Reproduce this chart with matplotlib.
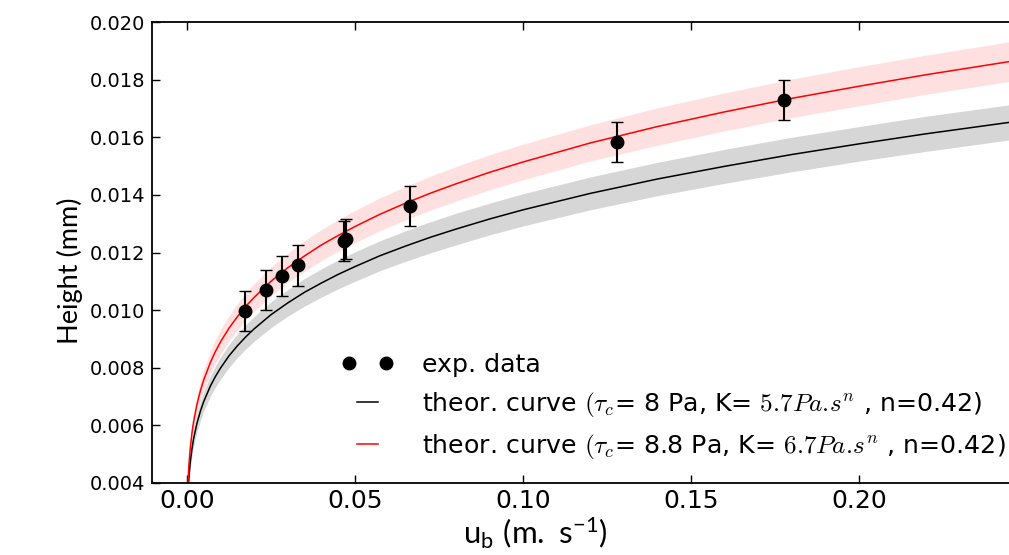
import matplotlib
matplotlib.use("Agg")
import matplotlib.pyplot as plt
from matplotlib.legend_handler import HandlerLine2D
from matplotlib.ticker import FormatStrFormatter

plt.rcParams["mathtext.fontset"] = "cm"

# -------------------------------------------------
# Data
# -------------------------------------------------

# measured heights with error bars
u_exp = [0.0173, 0.0234, 0.0284, 0.0331, 0.0466, 0.0474, 0.0664, 0.1279, 0.1778]
h_exp = [0.00998, 0.01069, 0.01119, 0.01155, 0.01240, 0.01247, 0.01361, 0.01583, 0.01730]
h_err = [0.0007, 0.0007, 0.0007, 0.0007, 0.0007, 0.0007, 0.0007, 0.0007, 0.0007]

# theoretical curves sampled along u_b (denser near zero where they are steep)
u_th = [0.0003, 0.0004, 0.0006, 0.001, 0.0015, 0.002, 0.003, 0.004, 0.005, 0.007,
        0.0085, 0.010, 0.0125, 0.015, 0.0175, 0.020, 0.025, 0.030, 0.035, 0.040,
        0.045, 0.050, 0.0575, 0.065, 0.0725, 0.080, 0.090, 0.100, 0.120, 0.140,
        0.160, 0.180, 0.200, 0.220, 0.245]
h_black = [0.00361, 0.00385, 0.00422, 0.00474, 0.00519, 0.00555, 0.00608, 0.00649,
           0.00683, 0.00737, 0.00770, 0.00799, 0.00841, 0.00876, 0.00907, 0.00935,
           0.00984, 0.01025, 0.01062, 0.01094, 0.01124, 0.01151, 0.01189, 0.01222,
           0.01253, 0.01281, 0.01316, 0.01348, 0.01405, 0.01455, 0.01499, 0.01540,
           0.01577, 0.01612, 0.01652]
dh_black = [0.00018, 0.00019, 0.00021, 0.00024, 0.00026, 0.00028, 0.00030, 0.00032,
            0.00033, 0.00035, 0.00037, 0.00038, 0.00040, 0.00041, 0.00042, 0.00043,
            0.00045, 0.00046, 0.00048, 0.00049, 0.00050, 0.00051, 0.00052, 0.00053,
            0.00054, 0.00055, 0.00055, 0.00056, 0.00057, 0.00058, 0.00059, 0.00060,
            0.00060, 0.00061, 0.00061]
h_red = [0.00396, 0.00423, 0.00465, 0.00523, 0.00574, 0.00614, 0.00674, 0.00720,
         0.00758, 0.00819, 0.00857, 0.00890, 0.00937, 0.00977, 0.01013, 0.01044,
         0.01100, 0.01147, 0.01188, 0.01226, 0.01259, 0.01290, 0.01333, 0.01371,
         0.01406, 0.01438, 0.01478, 0.01514, 0.01580, 0.01637, 0.01688, 0.01735,
         0.01777, 0.01817, 0.01863]
dh_red = [0.00020, 0.00022, 0.00024, 0.00027, 0.00029, 0.00031, 0.00033, 0.00035,
          0.00037, 0.00039, 0.00041, 0.00042, 0.00044, 0.00046, 0.00047, 0.00048,
          0.00050, 0.00051, 0.00053, 0.00054, 0.00055, 0.00056, 0.00057, 0.00058,
          0.00059, 0.00060, 0.00061, 0.00062, 0.00063, 0.00065, 0.00066, 0.00067,
          0.00068, 0.00068, 0.00069]

label_exp = "exp. data"
label_black = r"theor. curve $(\tau_c$= 8 Pa, K= $5.7Pa.\!s^n$ , n=0.42)"
label_red = r"theor. curve $(\tau_c$= 8.8 Pa, K= $6.7Pa.\!s^n$ , n=0.42)"

# -------------------------------------------------
# Plot
# -------------------------------------------------

fig = plt.figure(figsize=(10.09, 5.55), dpi=100)
# axes run past the right border of the figure
ax = fig.add_axes([152 / 1009, 72 / 555, 866.5 / 1009, 461 / 555])

lo_b = [h - d for h, d in zip(h_black, dh_black)]
hi_b = [h + d for h, d in zip(h_black, dh_black)]
lo_r = [h - d for h, d in zip(h_red, dh_red)]
hi_r = [h + d for h, d in zip(h_red, dh_red)]

ax.fill_between(u_th, lo_b, hi_b, color="k", alpha=0.16, linewidth=0)
ax.fill_between(u_th, lo_r, hi_r, color="r", alpha=0.12, linewidth=0)

l_exp, = ax.plot(u_exp, h_exp, "o", color="k", markersize=9, label=label_exp, zorder=5)
ax.errorbar(u_exp, h_exp, yerr=h_err, fmt="none", ecolor="k", elinewidth=1.5,
            capsize=4, capthick=1, zorder=4)
l_blk, = ax.plot(u_th, h_black, color="k", linewidth=1.1, label=label_black)
l_red, = ax.plot(u_th, h_red, color="r", linewidth=1.1, label=label_red)

ax.set_xlim(-0.0104, 0.2475)
ax.set_ylim(0.004, 0.020)
ax.set_xticks([0.00, 0.05, 0.10, 0.15, 0.20])
ax.set_yticks([0.004, 0.006, 0.008, 0.010, 0.012, 0.014, 0.016, 0.018, 0.020])
ax.xaxis.set_major_formatter(FormatStrFormatter("%.2f"))
ax.yaxis.set_major_formatter(FormatStrFormatter("%.3f"))

ax.tick_params(direction="in", length=6, width=1, top=True, right=True)
ax.tick_params(axis="y", labelsize=14, pad=5)
ax.tick_params(axis="x", pad=4)
for lab in ax.get_xticklabels():
    lab.set_fontfamily(["Liberation Sans Narrow", "DejaVu Sans"])
    lab.set_fontsize(18)
for sp in ax.spines.values():
    sp.set_linewidth(1.3)

fig.text(70 / 1009, 1 - 271 / 555, "Height (mm)", rotation=90, ha="center",
         va="center", family="Lato", fontsize=19.5)
fig.text(535 / 1009, 1 - 533 / 555, r"$\mathregular{u_b\ (m.\ s^{-1})}$",
         ha="center", va="center", family="Lato", fontsize=22.5)

ax.legend(handles=[l_exp, l_blk, l_red], numpoints=2, frameon=False,
          handler_map={l_exp: HandlerLine2D(marker_pad=0, numpoints=2)},
          fontsize=18.2, loc="upper left", bbox_to_anchor=(349 / 1009, 1 - 353 / 555),
          bbox_transform=fig.transFigure, borderpad=0, borderaxespad=0,
          handlelength=1.46, handletextpad=1.42, labelspacing=0.52)

fig.savefig("out.png", dpi=100)
